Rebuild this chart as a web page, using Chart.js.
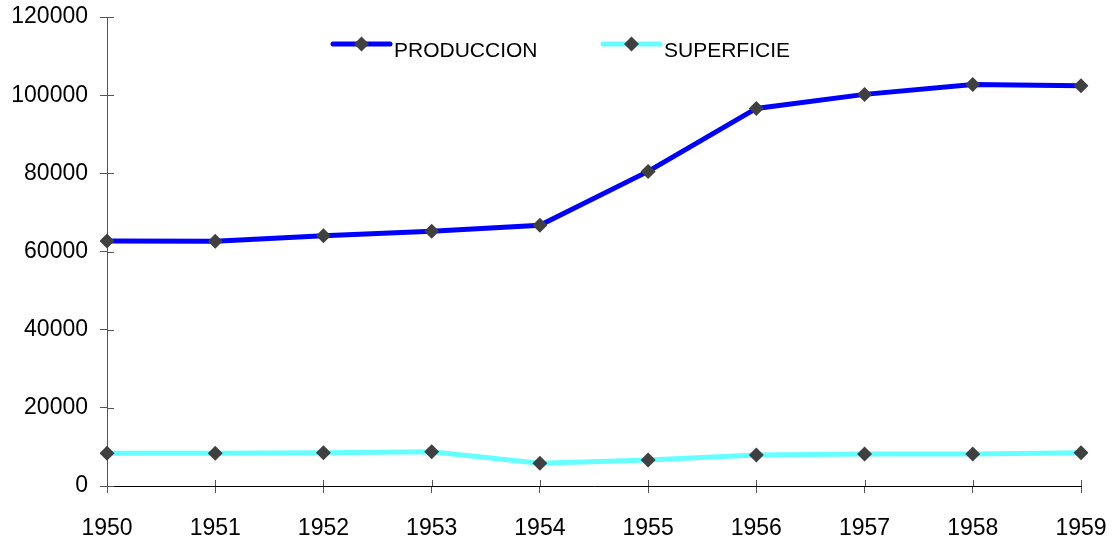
<!DOCTYPE html>
<html>
<head>
<meta charset="utf-8">
<script src="https://cdn.jsdelivr.net/npm/chart.js@4/dist/chart.umd.min.js"></script>
<style>
html,body{margin:0;padding:0;background:#fff;}
#wrap{width:1112px;height:538px;position:relative;}
</style>
</head>
<body>
<div id="wrap"><canvas id="c" width="1112" height="538"></canvas></div>
<script>
const years = ['1950','1951','1952','1953','1954','1955','1956','1957','1958','1959'];
const produccion = [62700, 62600, 64000, 65200, 66700, 80500, 96600, 100200, 102700, 102400];
const superficie = [8400, 8400, 8500, 8750, 5800, 6650, 7950, 8200, 8200, 8500];
const seriesNames = ['PRODUCCION', 'SUPERFICIE'];
const yMin = 0, yMax = 120000, yStep = 20000;

const FONT = '"Liberation Sans", Arial, sans-serif';

const crossTicks = {
  id: 'crossTicks',
  afterDraw(chart) {
    const ctx = chart.ctx;
    const x = chart.scales.x, y = chart.scales.y;
    ctx.save();
    ctx.lineWidth = 1;
    ctx.strokeStyle = '#555';
    y.ticks.forEach((t, i) => {
      const py = Math.round(y.getPixelForTick(i)) + 0.5;
      ctx.beginPath();
      ctx.moveTo(y.right, py);
      ctx.lineTo(y.right + 7, py);
      ctx.stroke();
    });
    x.ticks.forEach((t, i) => {
      const px = Math.round(x.getPixelForTick(i)) + 0.5;
      ctx.beginPath();
      ctx.moveTo(px, x.top);
      ctx.lineTo(px, x.top - 6);
      ctx.stroke();
    });
    ctx.restore();
  }
};

const customLegend = {
  id: 'customLegend',
  afterDraw(chart) {
    const ctx = chart.ctx;
    const spots = [{x0: 333, x1: 390, tx: 394}, {x0: 603, x1: 660, tx: 664}];
    const ly = 44;
    chart.data.datasets.forEach((ds, i) => {
      const s = spots[i];
      ctx.save();
      ctx.strokeStyle = ds.borderColor;
      ctx.lineWidth = 5;
      ctx.lineCap = 'round';
      ctx.beginPath();
      ctx.moveTo(s.x0, ly);
      ctx.lineTo(s.x1, ly);
      ctx.stroke();
      const cx = (s.x0 + s.x1) / 2, r = 7.5;
      ctx.fillStyle = ds.pointBackgroundColor;
      ctx.beginPath();
      ctx.moveTo(cx, ly - r);
      ctx.lineTo(cx + r, ly);
      ctx.lineTo(cx, ly + r);
      ctx.lineTo(cx - r, ly);
      ctx.closePath();
      ctx.fill();
      ctx.fillStyle = '#000';
      ctx.font = '21px ' + FONT;
      ctx.textBaseline = 'alphabetic';
      ctx.textAlign = 'left';
      ctx.fillText(ds.label, s.tx, 56.5);
      ctx.restore();
    });
  }
};

new Chart(document.getElementById('c'), {
  type: 'line',
  data: {
    labels: years,
    datasets: [
      {
        label: seriesNames[0],
        data: produccion,
        borderColor: '#0000FF',
        borderWidth: 5,
        pointStyle: 'rectRot',
        pointRadius: 7.5,
        pointBackgroundColor: '#404040',
        pointBorderColor: '#404040',
        pointBorderWidth: 0,
        tension: 0
      },
      {
        label: seriesNames[1],
        data: superficie,
        borderColor: '#66FFFF',
        borderWidth: 5,
        pointStyle: 'rectRot',
        pointRadius: 7.5,
        pointBackgroundColor: '#404040',
        pointBorderColor: '#404040',
        pointBorderWidth: 0,
        tension: 0
      }
    ]
  },
  options: {
    responsive: false,
    animation: false,
    layout: { padding: 0 },
    plugins: { legend: { display: false }, tooltip: { enabled: false } },
    scales: {
      x: {
        offset: false,
        grid: { drawOnChartArea: false, drawTicks: true, tickLength: 7, color: '#555' },
        border: { display: true, color: '#000', width: 1 },
        ticks: { color: '#000', font: { family: FONT, size: 23 }, padding: 22, maxRotation: 0, autoSkip: false },
        afterFit(s) { s.height = 52; s.paddingRight = 31; s.paddingLeft = 0; }
      },
      y: {
        min: yMin, max: yMax,
        grid: { drawOnChartArea: false, drawTicks: true, tickLength: 7, color: '#555' },
        border: { display: true, color: '#555', width: 1 },
        ticks: { stepSize: yStep, color: '#000', font: { family: FONT, size: 23 }, padding: 12, callback: v => String(v) },
        afterFit(s) { s.width = 107; s.paddingTop = 17; s.paddingBottom = 0; }
      }
    }
  },
  plugins: [crossTicks, customLegend]
});
</script>
</body>
</html>
